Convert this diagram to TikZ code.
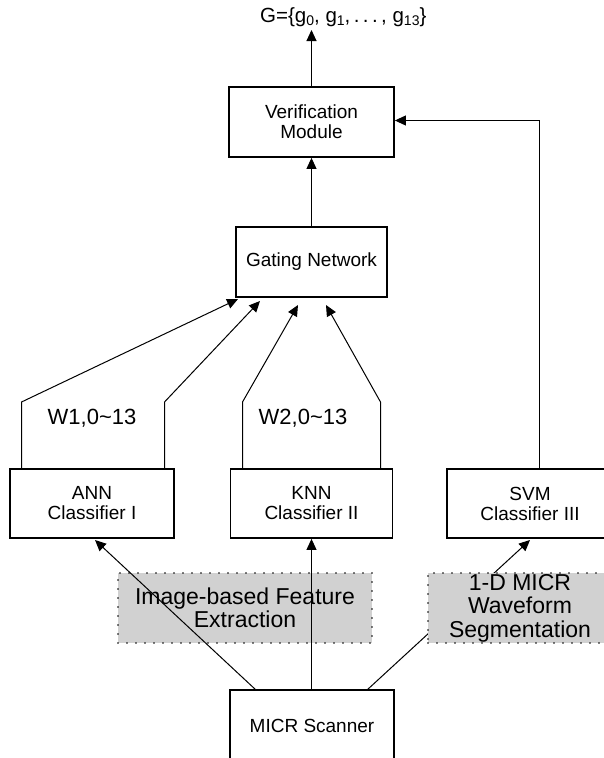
\documentclass[tikz,border=0pt]{standalone}
\usepackage{fontspec}
\setmainfont{Liberation Sans}
\usetikzlibrary{arrows.meta,calc}
\newcommand{\lowsub}[1]{\raisebox{-0.3ex}{\fontsize{14}{14}\selectfont #1}}
\begin{document}
\begin{tikzpicture}[x=1pt,y=-1pt,
  box/.style={draw, line width=1.8pt, inner sep=0pt, align=center,
    font=\fontsize{19}{20}\selectfont},
  graybox/.style={fill=black!18, draw, line width=1.6pt, line cap=round,
    dash pattern=on 0pt off 9pt, inner sep=0pt, align=center,
    font=\fontsize{23}{23.5}\selectfont},
  conn/.style={line width=1pt},
  arr/.style={line width=1pt, -{Triangle[length=11pt,width=10pt]}},
  lbl/.style={inner sep=0pt, font=\fontsize{22}{22}\selectfont}]
\useasboundingbox (0,0) rectangle (604,758);
\clip (0,0) rectangle (604,758);

% output label
\node[inner sep=0pt, font=\fontsize{20.5}{21}\selectfont, anchor=west] (out) at (260,17)
  {G=\{g\lowsub{0}, g\lowsub{1},\,.\,.\,.\,, g\lowsub{13}\}};
\coordinate (outtip) at (311.5,30);

% boxes
\node[box, minimum width=165, minimum height=70] (ver) at (311.5,122) {Verification\\Module};
\node[box, minimum width=151, minimum height=70] (gate) at (311.5,262) {Gating Network};
\node[box, minimum width=164, minimum height=69] (ann) at (92,503.5) {ANN\\Classifier I};
\node[box, minimum width=162, minimum height=69] (knn) at (311.5,503.5) {KNN\\Classifier II};
\node[box, minimum width=166, minimum height=69] (svm) at (530,503.5) {SVM\\Classifier III};
\node[box, minimum width=164, minimum height=72] (micr) at (312,726) {MICR Scanner};

% left gray box (under the connectors)
\node[graybox, minimum width=254, minimum height=70] (feat) at (245,608)
  {Image-based Feature\\Extraction};

% top connectors
\draw[arr] (ver.north -| outtip) -- (outtip);
\draw[arr] (gate.north -| ver.south) -- (ver.south);
\coordinate (vin) at (539.5,120.5);
\draw[arr] (svm.north -| vin) -- (vin) -- (ver.east |- vin);

% classifier outputs to gating network
\coordinate (k1) at (21.5,402);   \coordinate (t1) at (238,299);
\coordinate (k2) at (164.5,402);  \coordinate (t2) at (260,301);
\coordinate (k3) at (242.5,402);  \coordinate (t3) at (298,305);
\coordinate (k4) at (380.5,402);  \coordinate (t4) at (326,305);
\draw[arr] (ann.north -| k1) -- (k1) -- (t1);
\draw[arr] (ann.north -| k2) -- (k2) -- (t2);
\draw[arr] (knn.north -| k3) -- (k3) -- (t3);
\draw[arr] (knn.north -| k4) -- (k4) -- (t4);
\node[lbl] (w1) at (92,418) {W1,0{\char"007E}13};
\node[lbl] (w2) at (303,418) {W2,0{\char"007E}13};

% scanner to classifiers
\coordinate (s1) at (256,690); \coordinate (a1) at (95,540);
\coordinate (s3) at (367,690); \coordinate (a3) at (530,540);
\draw[arr] (s1) -- (a1);
\draw[arr] (micr.north -| knn.south) -- (knn.south);
\draw[arr] (s3) -- (a3);

% right gray box (over the connector)
\node[graybox, minimum width=184, minimum height=70] (seg) at (520,608)
  {1-D MICR\\Waveform\\Segmentation};
\end{tikzpicture}
\end{document}
